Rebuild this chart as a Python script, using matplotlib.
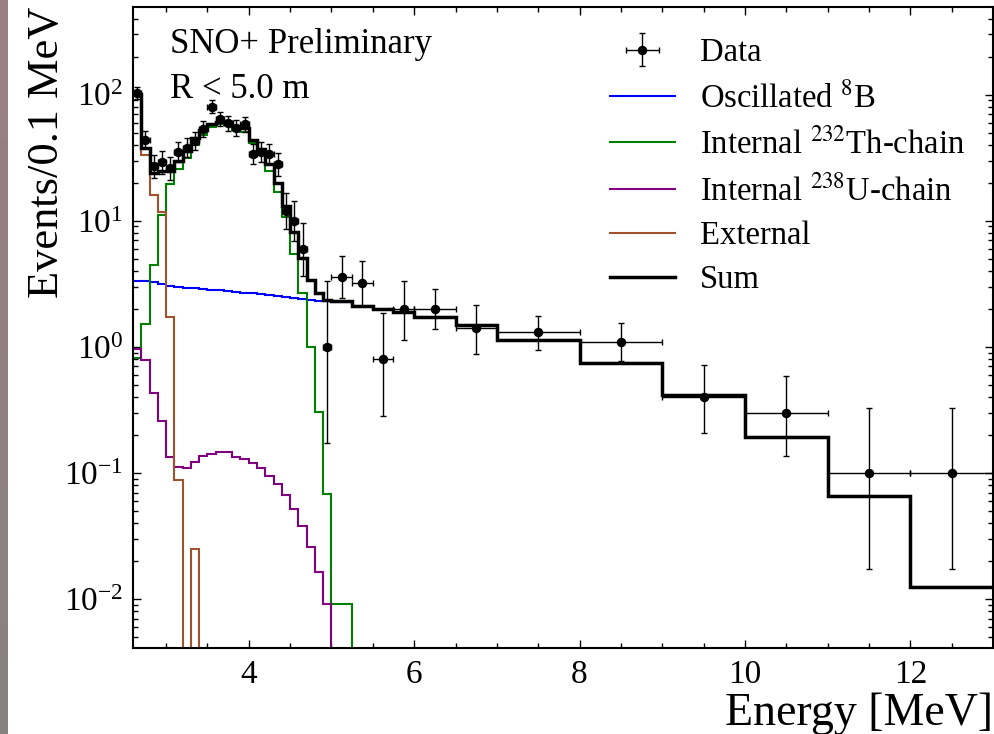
import numpy as np
import matplotlib
matplotlib.use("Agg")
import matplotlib.pyplot as plt
from matplotlib.colors import LinearSegmentedColormap

plt.rcParams["font.family"] = ["Liberation Serif", "DejaVu Serif"]
plt.rcParams["mathtext.fontset"] = "stix"

# bin edges: 0.1 MeV up to 5 MeV, then coarser
fine_edges = np.arange(26, 50) / 10
coarse_edges = [5.0, 5.25, 5.5, 5.75, 6.0, 6.5, 7.0, 8.0, 9.0, 10.0, 11.0, 12.0, 13.0]
edges = np.concatenate([fine_edges, coarse_edges])

# events / 0.1 MeV per bin
b8 = [3.34, 3.30, 3.26, 3.15, 3.06, 3.00, 2.95, 2.91, 2.88, 2.84, 2.80, 2.76,
      2.72, 2.69, 2.66, 2.62, 2.58, 2.54, 2.50, 2.45, 2.40, 2.36, 2.33, 2.30,
      2.28, 2.11, 2.00, 1.90, 1.72, 1.49, 1.14, 0.743, 0.416, 0.192, 0.0662, 0.01257]
th232 = [0.82, 1.52, 4.47, 11.1, 19.6, 25.6, 31.5, 40.0, 48.0, 55.0, 58.0, 57.5,
         52.5, 50.5, 41.0, 34.0, 24.6, 16.8, 10.8, 5.4, 2.67, 0.994, 0.307, 0.068,
         0.0091, 0, 0, 0, 0, 0, 0, 0, 0, 0, 0, 0]
u238 = [0.96, 0.79, 0.43, 0.259, 0.135, 0.112, 0.109, 0.123, 0.137, 0.142, 0.148, 0.146,
        0.135, 0.128, 0.119, 0.109, 0.094, 0.082, 0.067, 0.052, 0.038, 0.026, 0.0163, 0.0091,
        0, 0, 0, 0, 0, 0, 0, 0, 0, 0, 0, 0]
external = [97.0, 33.0, 16.0, 11.8, 1.74, 0.088, 0, 0.025, 0, 0, 0, 0,
            0, 0, 0, 0, 0, 0, 0, 0, 0, 0, 0, 0,
            0, 0, 0, 0, 0, 0, 0, 0, 0, 0, 0, 0]
total = [101.0, 38.0, 24.0, 25.0, 25.0, 30.0, 36.0, 45.0, 52.0, 58.0, 61.0, 60.5,
         56.0, 54.0, 44.0, 37.0, 28.0, 20.0, 13.0, 8.2, 5.05, 3.36, 2.67, 2.35,
         2.32, 2.11, 2.00, 1.90, 1.72, 1.49, 1.14, 0.743, 0.416, 0.192, 0.0662, 0.01257]

data = [103, 44, 27, 29, 26, 35, 38, 43, 53, 80, 64, 59,
        54, 58, 34, 35, 34, 28, 12, 10, 6, 0, 0, 1,
        3.6, 3.2, 0.8, 2.0, 2.0, 1.4, 1.3, 1.1, 0.4, 0.3, 0.1, 0.1]
data_lo = [92.9, 37.4, 21.8, 23.6, 20.9, 29.1, 31.9, 36.5, 45.7, 71.1, 56.0, 51.3,
           46.7, 50.4, 28.2, 29.1, 28.2, 22.7, 8.57, 6.89, 3.62, 0, 0, 0.173,
           2.42, 2.09, 0.283, 1.14, 1.38, 0.884, 0.944, 0.773, 0.209, 0.137, 0.0173, 0.0173]
data_hi = [114.2, 51.7, 33.3, 35.5, 32.2, 42.0, 45.2, 50.6, 61.3, 90.0, 73.0, 67.7,
           62.4, 66.7, 40.9, 42.0, 40.9, 34.4, 16.6, 14.3, 9.58, 0, 0, 3.30,
           5.24, 4.78, 1.86, 3.35, 2.85, 2.15, 1.77, 1.55, 0.716, 0.592, 0.330, 0.330]

fig = plt.figure(figsize=(9.94, 7.34), dpi=100)

# greyish strip on the left edge
strip = fig.add_axes([0, 0, 8 / 994, 1])
cmap = LinearSegmentedColormap.from_list("strip", ["#9c7f80", "#878282"])
strip.imshow(np.linspace(0, 1, 100)[:, None], aspect="auto", cmap=cmap)
strip.axis("off")

ax = fig.add_axes([0.1338, 0.1172, 0.8652, 0.8733])
ax.set_yscale("log")

ax.stairs(b8, edges, baseline=None, color="#0000ff", lw=1.5, label="Oscillated $^{8}$B", zorder=2)
ax.stairs(th232, edges, baseline=None, color="#008000", lw=1.5, label="Internal $^{232}$Th-chain", zorder=2)
ax.stairs(u238, edges, baseline=None, color="#800080", lw=1.5, label="Internal $^{238}$U-chain", zorder=2)
ax.stairs(external, edges, baseline=None, color="#a0522d", lw=1.5, label="External", zorder=2)
ax.stairs(total, edges, baseline=None, color="black", lw=2.5, label="Sum", zorder=3)

d = np.array(data, dtype=float)
m = d > 0
centers = (edges[:-1] + edges[1:]) / 2
halfw = (edges[1:] - edges[:-1]) / 2
yerr = np.array([d - np.array(data_lo), np.array(data_hi) - d])
ax.errorbar(centers[m], d[m], xerr=halfw[m], yerr=yerr[:, m], fmt="o", color="black",
            ms=5.8, elinewidth=1, capsize=2, capthick=1, label="Data", zorder=4)

ax.set_xlim(2.6, 13)
ax.set_ylim(0.0041, 495)
ax.set_xticks([4, 6, 8, 10, 12])
ax.xaxis.set_minor_locator(matplotlib.ticker.MultipleLocator(0.5))
ax.tick_params(which="both", direction="in", top=True, right=True, labelsize=24)
ax.tick_params(which="major", length=6, width=1)
ax.tick_params(which="minor", length=3.5, width=1)
ax.tick_params(axis="x", pad=8)
ax.tick_params(axis="y", pad=7)
for s in ax.spines.values():
    s.set_linewidth(1.5)

ax.set_xlabel("Energy [MeV]", fontsize=33, loc="right", labelpad=2)
ax.set_ylabel("Events/0.1 MeV", fontsize=32, loc="top", labelpad=-2)

ax.text(0.043, 0.941, "SNO+ Preliminary", transform=ax.transAxes, fontsize=25, va="center")
ax.text(0.043, 0.872, "R < 5.0 m", transform=ax.transAxes, fontsize=25, va="center")

h, l = ax.get_legend_handles_labels()
order = [5, 0, 1, 2, 3, 4]
ax.legend([h[i] for i in order], [l[i] for i in order], loc="upper right",
          bbox_to_anchor=(1.002, 0.998), frameon=False, fontsize=23.5,
          handlelength=2.0, labelspacing=0.42, handletextpad=0.77)

fig.savefig("out.png", dpi=100, facecolor="white")
